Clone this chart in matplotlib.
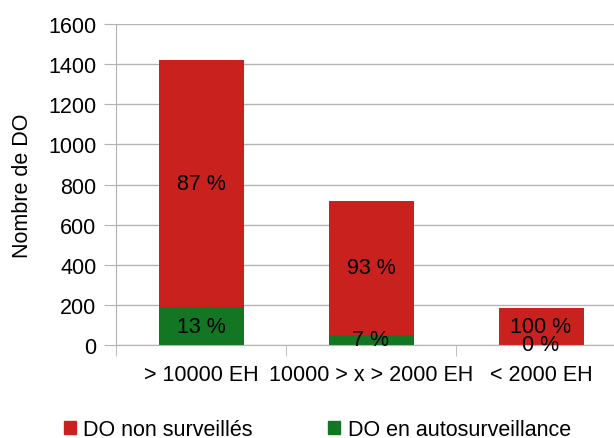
import matplotlib
matplotlib.use('Agg')
import matplotlib.pyplot as plt
from matplotlib.patches import Patch

plt.rcParams['font.family'] = ['Liberation Sans', 'DejaVu Sans']

categories = ['> 10000 EH', '10000 > x > 2000 EH', '< 2000 EH']
autosurv = [187, 51, 0]
non_surv = [1233, 667, 185]
pct_non = ['87 %', '93 %', '100 %']
pct_auto = ['13 %', '7 %', '0 %']

red = '#c9211e'
green = '#127622'
grid_col = '#b3b3b3'
fs = 15.5

fig = plt.figure(figsize=(6.14, 4.39), dpi=100)
ax = fig.add_axes([116 / 614, 93 / 439, 510 / 614, 321 / 439])

x = range(len(categories))
ax.bar(x, autosurv, width=0.5, color=green, zorder=2)
ax.bar(x, non_surv, width=0.5, bottom=autosurv, color=red, zorder=2)

for i in x:
    ax.text(i, autosurv[i] + non_surv[i] / 2, pct_non[i], ha='center', va='center',
            fontsize=fs, zorder=3)
    ax.text(i, autosurv[i] / 2, pct_auto[i], ha='center', va='center', fontsize=fs, zorder=3)

ax.set_xlim(-0.5, 2.5)
ax.set_ylim(0, 1600)
ax.set_yticks(range(0, 1601, 200))
ax.set_xticks(list(x))
ax.set_xticklabels(categories)
ax.set_xticks([-0.5, 0.5, 1.5, 2.5], minor=True)
ax.tick_params(axis='x', which='major', length=0, pad=14, labelsize=fs)
ax.tick_params(axis='x', which='minor', length=8, color=grid_col, direction='out')
ax.tick_params(axis='y', length=8.6, color=grid_col, labelsize=fs, pad=5.5)

ax.yaxis.grid(True, color=grid_col, linewidth=1, zorder=0)
for s in ['top', 'right']:
    ax.spines[s].set_visible(False)
ax.spines['left'].set_color(grid_col)
ax.spines['bottom'].set_color(grid_col)
ax.spines['left'].set_bounds(0, 1600)

ax.set_ylabel('Nombre de DO', fontsize=fs, labelpad=11)

handles = [Patch(color=red, label='DO non surveillés'),
           Patch(color=green, label='DO en autosurveillance')]
fig.legend(handles=handles, loc='center left', bbox_to_anchor=(64 / 614, 8 / 439), ncol=2,
           frameon=False, fontsize=fs, handlelength=0.55, handleheight=0.55,
           handletextpad=0.35, columnspacing=3.5, borderpad=0, borderaxespad=0)

fig.savefig('out.png', dpi=100)
